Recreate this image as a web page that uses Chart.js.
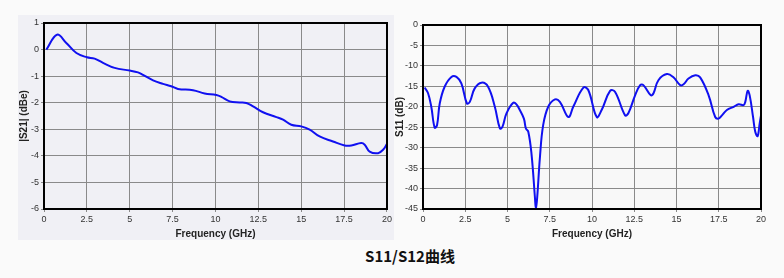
<!DOCTYPE html>
<html>
<head>
<meta charset="utf-8">
<script src="https://cdn.jsdelivr.net/npm/chart.js@4.4.1/dist/chart.umd.min.js"></script>
<style>
  body { margin: 0; background: #fafafa; width: 784px; height: 278px; overflow: hidden; position: relative; }
  #box1 { position: absolute; left: 18px; top: 15px; width: 376px; height: 225px; background: #f0f0f5; }
  #c1 { position: absolute; left: 18px; top: 15px; }
  #c2 { position: absolute; left: 394px; top: 15px; }
  #title { position: absolute; left: 0; width: 820px; top: 245px; text-align: center;
           font: bold 15px "Noto Sans CJK SC", "Noto Sans", sans-serif; color: #111; }
</style>
</head>
<body>
<div id="box1"></div>
<canvas id="c1" width="376" height="225"></canvas>
<canvas id="c2" width="381" height="225"></canvas>
<div id="title">S11/S12曲线</div>
<script>
// |S21| curve
const s21Freq = [0.14, 0.76, 1.3, 1.89, 2.5, 2.95, 3.44, 4.12, 5.0, 5.48, 5.77, 6.36, 6.94, 7.42, 7.81, 8.69, 9.37, 10.05, 10.34, 10.83, 11.41, 11.8, 12.19, 12.77, 13.55, 13.94, 14.42, 15.0, 15.49, 16.07, 16.85, 17.53, 17.92, 18.5, 18.7, 18.99, 19.48, 19.77, 20];
const s21Vals = [0, 0.56, 0.25, -0.13, -0.29, -0.34, -0.5, -0.69, -0.79, -0.86, -0.95, -1.16, -1.29, -1.38, -1.48, -1.53, -1.65, -1.71, -1.78, -1.95, -1.99, -2.01, -2.14, -2.36, -2.54, -2.64, -2.83, -2.89, -3.01, -3.27, -3.46, -3.61, -3.61, -3.52, -3.58, -3.84, -3.9, -3.77, -3.55];

// S11 curve
const s11Freq = [0.1, 0.3, 0.49, 0.69, 0.83, 0.99, 1.28, 1.68, 1.98, 2.27, 2.6, 2.77, 3.06, 3.46, 3.85, 4.25, 4.55, 4.7, 4.94, 5.34, 5.53, 5.73, 5.97, 6.09, 6.23, 6.42, 6.62, 6.68, 6.76, 6.92, 7.11, 7.41, 7.81, 8.1, 8.6, 8.89, 9.49, 9.78, 10.28, 10.57, 11.07, 11.36, 11.96, 12.15, 12.55, 12.85, 13.04, 13.48, 13.64, 13.93, 14.43, 14.82, 15.22, 15.42, 15.71, 16.11, 16.4, 16.9, 17.29, 17.49, 17.69, 17.98, 18.38, 18.68, 18.97, 19.07, 19.21, 19.33, 19.53, 19.66, 19.8, 19.92, 20];
const s11Vals = [-15.3, -16.7, -20, -25.1, -24.5, -19.2, -15.1, -12.7, -12.7, -14.3, -19.2, -18.8, -15.5, -14.1, -15.1, -20, -25.3, -24.9, -21.6, -19, -19.4, -20.8, -22.9, -25.3, -26.1, -31.5, -42, -45, -42, -32.3, -24.5, -20, -18.2, -18.8, -22.5, -20, -15.3, -15.9, -22.5, -20.8, -16.1, -16.3, -22.1, -21.6, -17.2, -14.7, -14.7, -17.2, -16.7, -13.5, -12, -12.8, -14.7, -14.5, -13.1, -12.3, -12.8, -17.2, -22.5, -22.9, -22.1, -20.8, -20, -19.4, -19.6, -18.8, -16.1, -17.2, -22.5, -26.1, -27.2, -24.1, -22.1];

const freqTicks = [0, 2.5, 5, 7.5, 10, 12.5, 15, 17.5, 20];

const frame = {
  id: 'frame',
  beforeDraw(chart, args, opts) {
    const a = chart.chartArea, c = chart.ctx;
    c.save();
    c.fillStyle = opts.bg;
    c.fillRect(a.left, a.top, a.right - a.left, a.bottom - a.top);
    c.restore();
  },
  afterDatasetsDraw(chart) {
    const a = chart.chartArea, c = chart.ctx;
    c.save();
    c.strokeStyle = '#000';
    c.lineWidth = 2;
    c.strokeRect(a.left, a.top, a.right - a.left, a.bottom - a.top);
    c.restore();
  }
};

function makeChart(id, xs, ys, yMin, yMax, yStep, yTitle, pad, yWidth, plotBg) {
  new Chart(document.getElementById(id), {
    type: 'line',
    data: {
      datasets: [{
        data: xs.map((x, i) => ({ x: x, y: ys[i] })),
        borderColor: '#1010f0',
        borderWidth: 2,
        pointRadius: 0,
        tension: 0.4,
        fill: false
      }]
    },
    plugins: [frame],
    options: {
      responsive: false,
      animation: false,
      layout: { padding: pad },
      plugins: { legend: { display: false }, tooltip: { enabled: false }, frame: { bg: plotBg } },
      scales: {
        x: {
          type: 'linear', min: 0, max: 20,
          afterBuildTicks: s => { s.ticks = freqTicks.map(v => ({ value: v })); },
          afterFit: s => { s.height = 31; },
          grid: { color: '#8a8a8a', lineWidth: 1, tickLength: 3 },
          border: { display: false },
          ticks: { color: '#333', font: { family: 'Liberation Sans', size: 9 }, padding: 2, maxRotation: 0 },
          title: { display: true, text: 'Frequency (GHz)', color: '#222', font: { family: 'Liberation Sans', size: 10, weight: 'bold' }, padding: { top: 2, bottom: 0 } }
        },
        y: {
          min: yMin, max: yMax,
          afterFit: s => { s.width = yWidth; },
          grid: { color: '#8a8a8a', lineWidth: 1, tickLength: 3 },
          border: { display: false },
          ticks: { stepSize: yStep, color: '#333', font: { family: 'Liberation Sans', size: 9 }, padding: 2 },
          title: { display: true, text: yTitle, color: '#222', font: { family: 'Liberation Sans', size: 10, weight: 'bold' }, padding: { top: 0, bottom: 2 } }
        }
      }
    }
  });
}

makeChart('c1', s21Freq, s21Vals, -6, 1, 1, '|S21| (dBe)', { left: 0, top: 8, right: 7, bottom: 0 }, 26, '#f0f0f5');
makeChart('c2', s11Freq, s11Vals, -45, 0, 5, 'S11 (dB)', { left: 0, top: 10, right: 14, bottom: 0 }, 29, '#f8f8f8');
</script>
</body>
</html>
